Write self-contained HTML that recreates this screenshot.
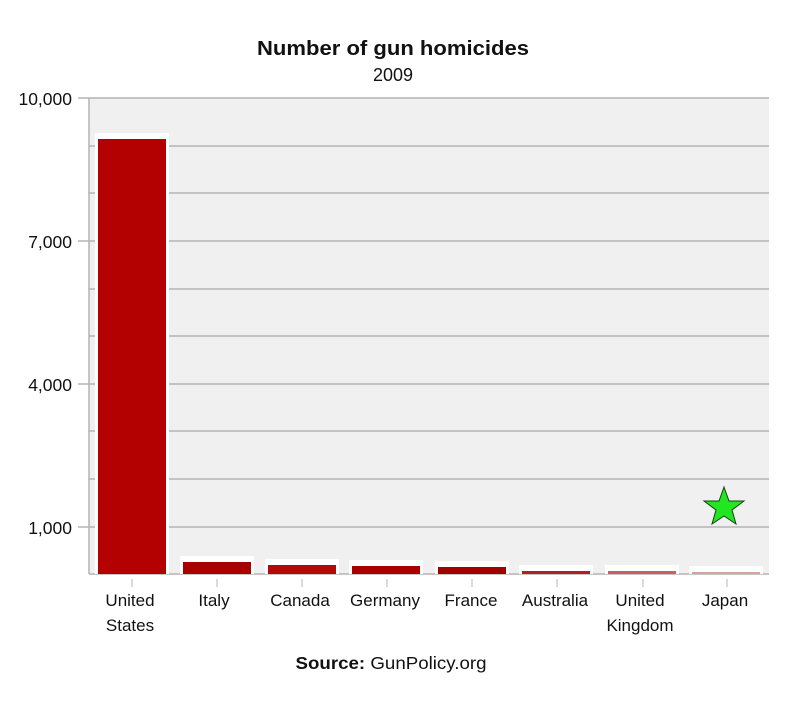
<!DOCTYPE html>
<html><head><style>
body{margin:0;background:#fff;}
svg{display:block;font-family:"Liberation Sans",Arial,sans-serif;}
</style></head><body>
<svg width="799" height="702" viewBox="0 0 799 702">
<rect x="0" y="0" width="799" height="702" fill="#fff"/>
<text x="393" y="55" text-anchor="middle" font-size="20" font-weight="bold" fill="#111" textLength="272" lengthAdjust="spacingAndGlyphs">Number of gun homicides</text>
<text x="393" y="81" text-anchor="middle" font-size="18" fill="#111">2009</text>
<rect x="89" y="98" width="680" height="476" fill="#f0f0f0"/>
<g stroke="#b4b4b4" stroke-width="1.5">
<line x1="89" y1="98" x2="769" y2="98"/>
<line x1="89" y1="146" x2="769" y2="146"/>
<line x1="89" y1="193" x2="769" y2="193"/>
<line x1="89" y1="241" x2="769" y2="241"/>
<line x1="89" y1="289" x2="769" y2="289"/>
<line x1="89" y1="336" x2="769" y2="336"/>
<line x1="89" y1="384" x2="769" y2="384"/>
<line x1="89" y1="431" x2="769" y2="431"/>
<line x1="89" y1="479" x2="769" y2="479"/>
<line x1="89" y1="527" x2="769" y2="527"/>
<line x1="89" y1="574" x2="769" y2="574"/>
<line x1="89" y1="98" x2="89" y2="574"/>
<line x1="78" y1="98" x2="89" y2="98"/>
<line x1="78" y1="241" x2="89" y2="241"/>
<line x1="78" y1="384" x2="89" y2="384"/>
<line x1="78" y1="527" x2="89" y2="527"/>
</g>
<g fill="#fff">
<rect x="95" y="133" width="74" height="441"/>
<rect x="180" y="556" width="74" height="18"/>
<rect x="265" y="559" width="74" height="15"/>
<rect x="349" y="560" width="74" height="14"/>
<rect x="435" y="561" width="74" height="13"/>
<rect x="519" y="565" width="74" height="9"/>
<rect x="605" y="565" width="74" height="9"/>
<rect x="689" y="566" width="74" height="8"/>
</g>
<rect x="98" y="139" width="68" height="435" fill="#b30000"/>
<rect x="183" y="562" width="68" height="12" fill="#a80000"/>
<rect x="268" y="565" width="68" height="9" fill="#b00a0a"/>
<rect x="352" y="566" width="68" height="8" fill="#a80000"/>
<rect x="438" y="567" width="68" height="7" fill="#a00000"/>
<rect x="522" y="571" width="68" height="3" fill="#b02020"/>
<rect x="608" y="571" width="68" height="3" fill="#c86060"/>
<rect x="692" y="572" width="68" height="2" fill="#d8a0a0"/>
<g stroke="#b4b4b4" stroke-width="1">
<line x1="132" y1="579" x2="132" y2="587"/>
<line x1="217" y1="579" x2="217" y2="587"/>
<line x1="302" y1="579" x2="302" y2="587"/>
<line x1="387" y1="579" x2="387" y2="587"/>
<line x1="472" y1="579" x2="472" y2="587"/>
<line x1="557" y1="579" x2="557" y2="587"/>
<line x1="643" y1="579" x2="643" y2="587"/>
<line x1="727" y1="579" x2="727" y2="587"/>
</g>
<g font-size="17.5" fill="#111">
<text x="72" y="105" text-anchor="end">10,000</text>
<text x="72" y="248" text-anchor="end">7,000</text>
<text x="72" y="391" text-anchor="end">4,000</text>
<text x="72" y="534" text-anchor="end">1,000</text>
</g>
<g font-size="17" fill="#111" text-anchor="middle">
<text x="130" y="606">United</text><text x="130" y="631">States</text>
<text x="214" y="606">Italy</text>
<text x="300" y="606">Canada</text>
<text x="385" y="606">Germany</text>
<text x="471" y="606">France</text>
<text x="555" y="606">Australia</text>
<text x="640" y="606">United</text><text x="640" y="631">Kingdom</text>
<text x="725" y="606">Japan</text>
</g>
<text x="391" y="669" text-anchor="middle" font-size="17.5" fill="#111" textLength="191" lengthAdjust="spacingAndGlyphs"><tspan font-weight="bold">Source:</tspan> GunPolicy.org</text>
<polygon points="724,487 729,501 744,501 732,510 736,524 724,516 712,524 716,510 704,501 719,501" fill="#22e622" stroke="#114411" stroke-width="1"/>
</svg>
</body></html>
